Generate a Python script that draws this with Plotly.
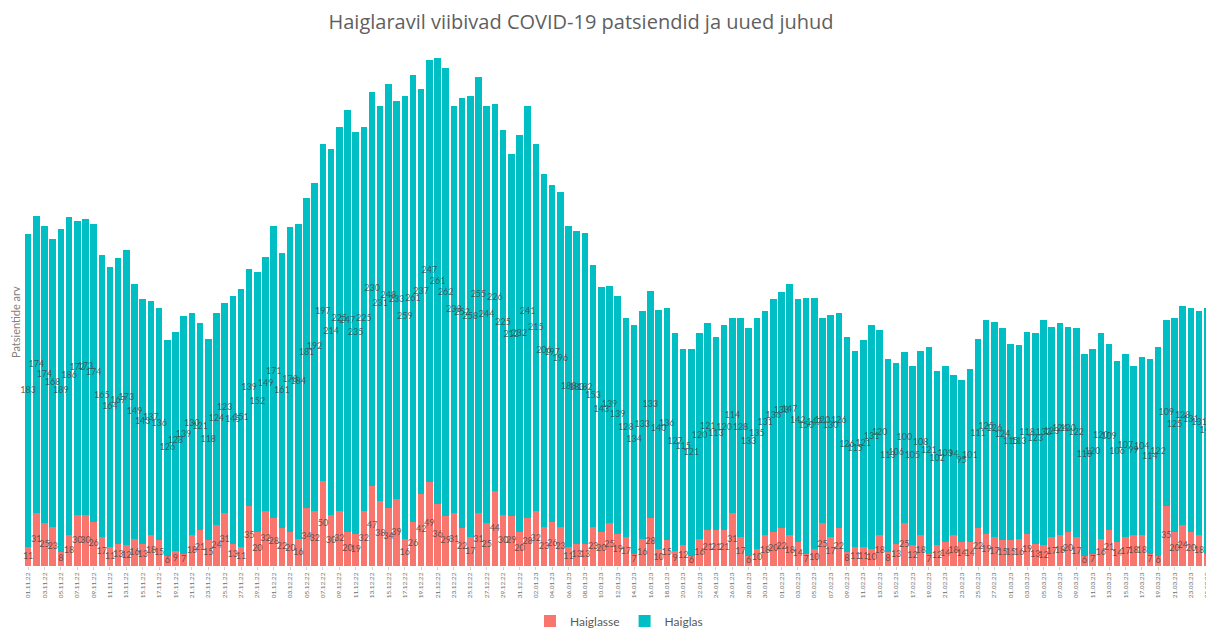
import datetime as dt
import plotly.graph_objects as go

start = dt.date(2022, 11, 1)
dates = [(start + dt.timedelta(days=i)).strftime("%d.%m.%y") for i in range(146)]

haiglasse = [11, 31, 25, 23, 8, 18, 30, 30, 26, 17, 11, 13, 12, 16, 13, 18, 15, 6, 9, 7,
             18, 21, 15, 24, 31, 13, 11, 35, 20, 32, 28, 22, 20, 16, 34, 32, 50, 30, 32, 20,
             19, 32, 47, 38, 34, 39, 16, 26, 42, 49, 36, 29, 31, 22, 17, 31, 25, 44, 30, 29,
             20, 28, 32, 23, 26, 23, 11, 13, 13, 23, 20, 25, 19, 17, 7, 16, 28, 10, 15, 9,
             12, 6, 16, 21, 21, 21, 31, 17, 6, 10, 18, 20, 22, 18, 14, 7, 10, 25, 17, 22,
             8, 11, 11, 10, 18, 8, 13, 25, 12, 18, 7, 12, 14, 18, 14, 14, 22, 19, 17, 15,
             15, 16, 19, 13, 12, 17, 18, 20, 17, 6, 7, 16, 21, 14, 17, 18, 18, 7, 6, 35,
             20, 24, 20, 18, 7, 8]

haiglas = [183, 174, 174, 168, 189, 186, 172, 173, 174, 165, 164, 167, 173, 149, 143, 137, 136, 126, 128, 139,
           130, 121, 118, 124, 123, 145, 151, 139, 152, 149, 171, 161, 178, 184, 181, 192, 197, 214, 225, 247,
           235, 225, 230, 231, 248, 233, 259, 261, 237, 247, 261, 262, 238, 252, 258, 255, 244, 226, 225, 212,
           232, 241, 215, 206, 197, 196, 188, 183, 182, 153, 143, 139, 139, 128, 134, 133, 133, 140, 136, 127,
           115, 121, 120, 121, 113, 120, 114, 128, 133, 135, 131, 136, 138, 147, 142, 150, 147, 120, 130, 126,
           126, 115, 121, 131, 120, 113, 106, 100, 105, 108, 121, 102, 103, 94, 95, 101, 111, 125, 126, 124,
           115, 113, 118, 123, 132, 123, 124, 120, 122, 118, 120, 120, 109, 106, 107, 99, 104, 114, 122, 109,
           125, 128, 131, 131, 144, 124]

tick_labels = dates[::2]

RED = "#F8766D"
TEAL = "#00BFC4"
LABEL_COLOR = "rgba(70,70,70,0.85)"

# page body has an 8px margin: figure is laid out 8px smaller and shifted
W, H = 1206, 620
PL, PT, PB = 16, 42, 62
PW, PH = W - PL, H - PT - PB

fig = go.Figure()
fig.add_trace(go.Bar(x=dates, y=haiglasse, name="Haiglasse", marker_color=RED,
                     marker_line_width=0, hoverinfo="x+y"))
fig.add_trace(go.Bar(x=dates, y=haiglas, name="Haiglas", marker_color=TEAL,
                     marker_line_width=0, hoverinfo="x+y"))

red_mid = [r / 2 for r in haiglasse]
teal_mid = [r + t / 2 for r, t in zip(haiglasse, haiglas)]
fig.add_trace(go.Scatter(x=dates, y=red_mid, text=[str(v) for v in haiglasse], mode="text",
                         textfont=dict(size=9, color=LABEL_COLOR, family="Lato"),
                         showlegend=False, hoverinfo="skip", cliponaxis=False))
fig.add_trace(go.Scatter(x=dates, y=teal_mid, text=[str(v) for v in haiglas], mode="text",
                         textfont=dict(size=9, color=LABEL_COLOR, family="Lato"),
                         showlegend=False, hoverinfo="skip", cliponaxis=False))

fig.update_layout(
    width=W, height=H,
    barmode="stack", bargap=0.2,
    paper_bgcolor="white", plot_bgcolor="white",
    margin=dict(l=PL, r=0, t=PT, b=PB, autoexpand=False),
    title=dict(text="Haiglaravil viibivad COVID-19 patsiendid ja uued juhud",
               x=573 / W, xanchor="center", y=1 - 14 / H, yanchor="middle",
               font=dict(family="Open Sans", size=20, color="#5f5f5f")),
    xaxis=dict(type="category", categoryorder="array", categoryarray=dates,
               range=[-0.5, 144.82], automargin=False,
               tickmode="array", tickvals=tick_labels, ticktext=tick_labels,
               tickangle=-90, tickfont=dict(size=6.5, color="#6e6e6e", family="Lato"),
               ticks="outside", ticklen=3, tickcolor="#d0d0d0",
               showgrid=False, showline=False, zeroline=False),
    yaxis=dict(range=[0, 301.8], showticklabels=False, showgrid=False, automargin=False,
               zeroline=False, showline=False, ticks=""),
    legend=dict(orientation="h", x=0.5, xanchor="center", y=-55 / PH, yanchor="middle",
                font=dict(family="Lato", size=12, color="#595959"),
                traceorder="normal", itemwidth=30),
    annotations=[dict(text="Patsientide arv", textangle=-90, xref="paper", yref="paper",
                      x=(7 - PL) / PW, y=(558 - 314) / PH, xanchor="center",
                      yanchor="middle", showarrow=False,
                      font=dict(family="Lato", size=11, color="#7f7f7f"))],
    showlegend=True,
)

fig.write_html("out.html")
